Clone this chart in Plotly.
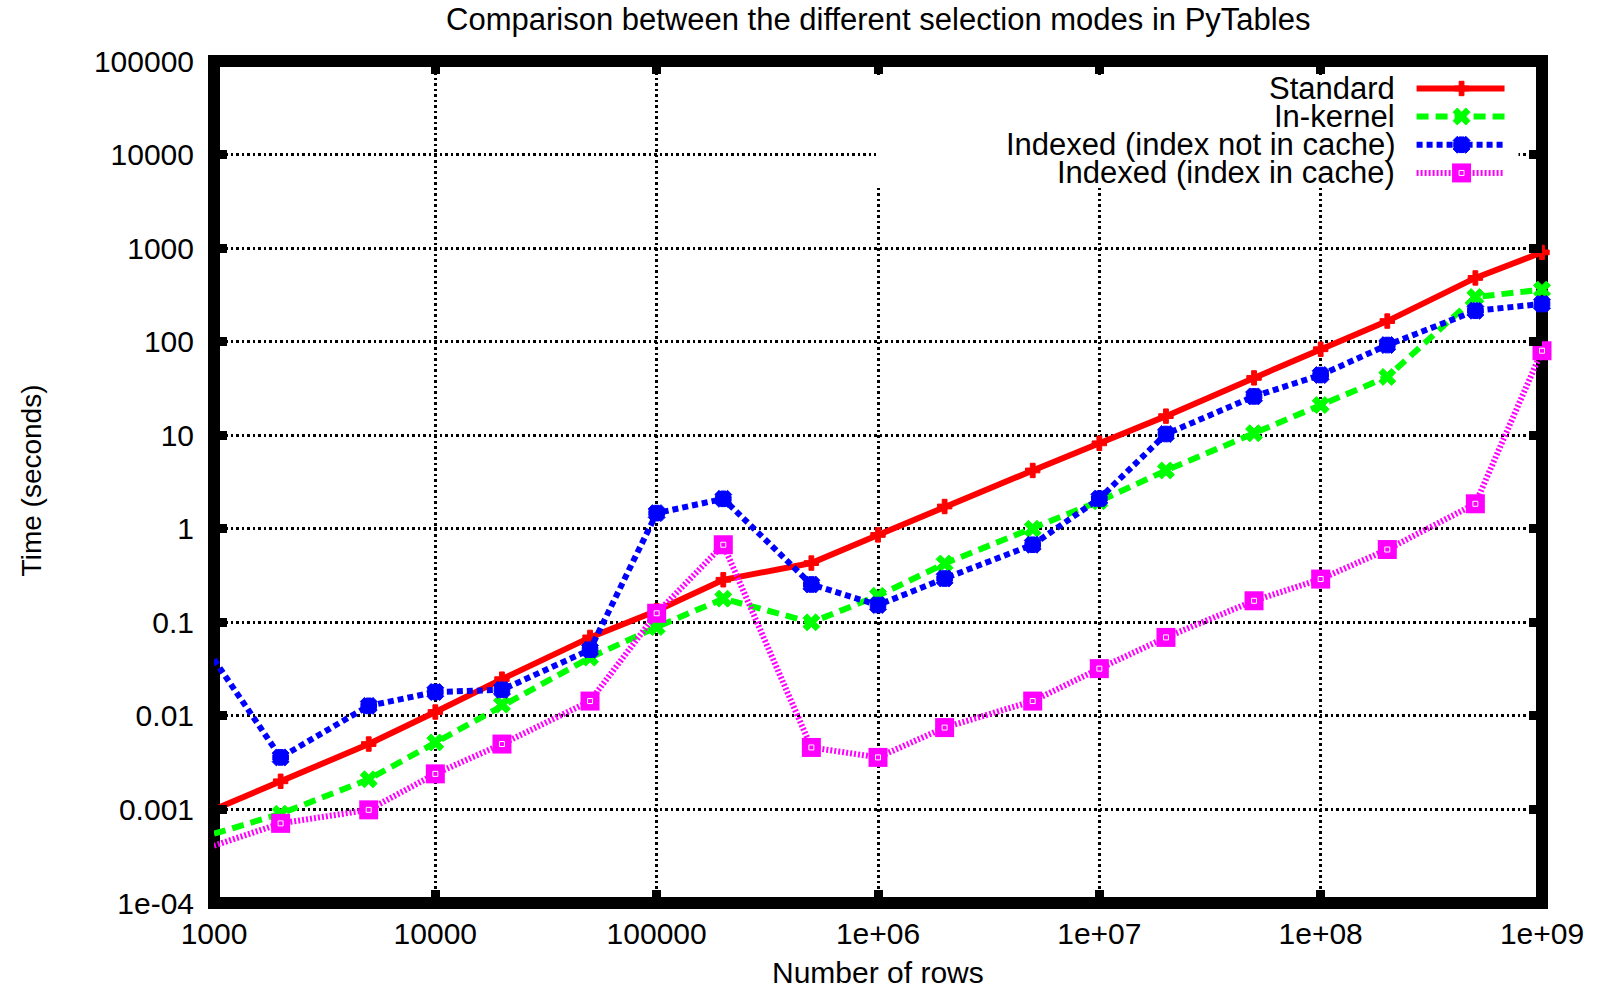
import plotly.graph_objects as go

# ---------------- data ----------------
rows = [1e3, 2e3, 5e3, 1e4, 2e4, 5e4, 1e5, 2e5, 5e5, 1e6, 2e6, 5e6,
        1e7, 2e7, 5e7, 1e8, 2e8, 5e8, 1e9]
standard = [0.001, 0.002, 0.005, 0.011, 0.0247, 0.069, 0.133, 0.285, 0.43, 0.86,
            1.73, 4.2, 8.2, 16.0, 41.0, 83.0, 166.0, 480.0, 900.0]
in_kernel = [0.00055, 0.0009, 0.0021, 0.0052, 0.0132, 0.042, 0.089, 0.179, 0.1, 0.192,
             0.425, 1.0, 1.97, 4.2, 10.5, 21.0, 42.0, 300.0, 360.0]
idx_nocache = [0.040, 0.0036, 0.0128, 0.018, 0.019, 0.051, 1.47, 2.09, 0.254, 0.153,
               0.294, 0.675, 2.1, 10.3, 26.0, 44.0, 92.0, 214.0, 253.0]
idx_cache = [0.00041, 0.00071, 0.00099, 0.0024, 0.0050, 0.0144, 0.125, 0.675, 0.0046, 0.0036,
             0.0075, 0.0144, 0.032, 0.069, 0.17, 0.29, 0.6, 1.85, 80.0]

series_names = ["Standard", "In-kernel", "Indexed (index not in cache)", "Indexed (index in cache)"]

x_tickvals = [1e3, 1e4, 1e5, 1e6, 1e7, 1e8, 1e9]
x_ticktext = ["1000", "10000", "100000", "1e+06", "1e+07", "1e+08", "1e+09"]
y_tickvals = [1e-4, 1e-3, 1e-2, 1e-1, 1, 10, 100, 1000, 1e4, 1e5]
y_ticktext = ["1e-04", "0.001", "0.01", "0.1", "1", "10", "100", "1000", "10000", "100000"]

title_text = "Comparison between the different selection modes in PyTables"
x_title = "Number of rows"
y_title = "Time (seconds)"

# ---------------- layout geometry ----------------
W, H = 1597, 988
L, R, T, B = 213.5, 1542.5, 61.0, 903.5   # plot area edges in pixels
PW, PH = R - L, B - T
FONT = "Liberation Sans, Arial, sans-serif"


def px(xp):
    return (xp - L) / PW


def py(yp):
    return (B - yp) / PH


RED, GREEN, BLUE, MAG = "#ff0000", "#00ff00", "#0000ff", "#ff00ff"

styles = [
    dict(line=dict(color=RED, width=6, dash="solid"),
         marker=dict(symbol="cross", size=12, color=RED, line=dict(width=1, color=RED))),
    dict(line=dict(color=GREEN, width=6, dash="12px,7px"),
         marker=dict(symbol="x", size=15, color=GREEN, line=dict(width=1, color=GREEN))),
    dict(line=dict(color=BLUE, width=6, dash="6px,4px"),
         marker=dict(symbol="x", size=15, color=BLUE, line=dict(width=1, color=BLUE))),
    dict(line=dict(color=MAG, width=6, dash="2px,2px"),
         marker=dict(symbol="square", size=19, color=MAG, line=dict(width=0))),
]
# extra overlays: blue "*" = x + cross, gnuplot open square's white hole
blue_plus = dict(symbol="cross", size=13, color=BLUE, line=dict(width=1, color=BLUE))
hole = dict(symbol="square-open", size=5, color="white", line=dict(width=1, color="white"))
overlays = [None, None, blue_plus, hole]

fig = go.Figure()
for name, ys, st, ov in zip(series_names, [standard, in_kernel, idx_nocache, idx_cache],
                            styles, overlays):
    fig.add_trace(go.Scatter(x=rows, y=ys, mode="lines+markers", name=name,
                             line=st["line"], marker=st["marker"],
                             cliponaxis=False, showlegend=False))
    if ov is not None:
        fig.add_trace(go.Scatter(x=rows, y=ys, mode="markers", showlegend=False,
                                 marker=ov, cliponaxis=False, hoverinfo="skip"))

# ---------------- manual legend (gnuplot style, text left of sample) ----------------
# opaque white key box (covers the grid like gnuplot's key)
box_x0, box_x1, box_y0, box_y1 = 876, 1519, 75, 185
fig.add_trace(go.Scatter(x=[box_x0, box_x1, box_x1, box_x0, box_x0],
                         y=[box_y0, box_y0, box_y1, box_y1, box_y0],
                         mode="lines", fill="toself", fillcolor="white",
                         line=dict(width=0, color="white"), xaxis="x2", yaxis="y2",
                         showlegend=False, hoverinfo="skip"))

leg_rows = [88.5, 116.5, 144.8, 173.0]
sample_x0, sample_x1, sample_xm = 1417, 1505, 1462
text_right = 1397
for name, yrow, st, ov in zip(series_names, leg_rows, styles, overlays):
    fig.add_trace(go.Scatter(x=[sample_x0, sample_xm, sample_x1], y=[yrow, yrow, yrow],
                             mode="lines", line=st["line"], xaxis="x2", yaxis="y2",
                             showlegend=False, hoverinfo="skip", cliponaxis=False))
    fig.add_trace(go.Scatter(x=[sample_xm], y=[yrow], mode="markers", marker=st["marker"],
                             xaxis="x2", yaxis="y2", showlegend=False, hoverinfo="skip",
                             cliponaxis=False))
    if ov is not None:
        fig.add_trace(go.Scatter(x=[sample_xm], y=[yrow], mode="markers", marker=ov,
                                 xaxis="x2", yaxis="y2", showlegend=False, hoverinfo="skip",
                                 cliponaxis=False))
    fig.add_annotation(x=px(text_right), y=py(yrow), xref="paper", yref="paper", text=name,
                       showarrow=False, xanchor="right", yanchor="middle",
                       font=dict(family=FONT, size=31, color="black"))

# axis titles & title
fig.add_annotation(x=px((L + R) / 2), y=py(973), xref="paper", yref="paper", text=x_title,
                   showarrow=False, xanchor="center", yanchor="middle",
                   font=dict(family=FONT, size=30, color="black"))
fig.add_annotation(x=px(31), y=py(481), xref="paper", yref="paper", text=y_title,
                   textangle=-90, showarrow=False, xanchor="center", yanchor="middle",
                   font=dict(family=FONT, size=28, color="black"))
fig.add_annotation(x=px(877.5), y=py(19), xref="paper", yref="paper", text=title_text,
                   showarrow=False, xanchor="center", yanchor="middle",
                   font=dict(family=FONT, size=31, color="black"))

# frame (thick gnuplot border)
fig.add_shape(type="rect", xref="paper", yref="paper", x0=0, x1=1, y0=0, y1=1,
              line=dict(color="black", width=12), fillcolor="rgba(0,0,0,0)", layer="between")

grid = dict(showgrid=True, gridcolor="black", gridwidth=2.5, griddash="2.5px,3px")
fig.update_layout(
    width=W, height=H,
    margin=dict(l=L, r=W - R, t=T, b=H - B, pad=0),
    paper_bgcolor="white", plot_bgcolor="white",
    font=dict(family=FONT, size=30, color="black"),
    showlegend=False,
    xaxis=dict(type="log", range=[3, 9], tickvals=x_tickvals, ticktext=x_ticktext,
               ticks="inside", ticklen=13, tickwidth=9, tickcolor="black", mirror="ticks",
               showline=False, zeroline=False, ticklabelstandoff=10,
               tickfont=dict(family=FONT, size=30), **grid),
    yaxis=dict(type="log", range=[-4, 5], tickvals=y_tickvals, ticktext=y_ticktext,
               ticks="inside", ticklen=13, tickwidth=9, tickcolor="black", mirror="ticks",
               showline=False, zeroline=False, ticklabelstandoff=19,
               tickfont=dict(family=FONT, size=30), **grid),
    xaxis2=dict(overlaying="x", range=[L, R], visible=False, fixedrange=True),
    yaxis2=dict(overlaying="y", range=[B, T], visible=False, fixedrange=True),
)

fig.write_html("out.html")
